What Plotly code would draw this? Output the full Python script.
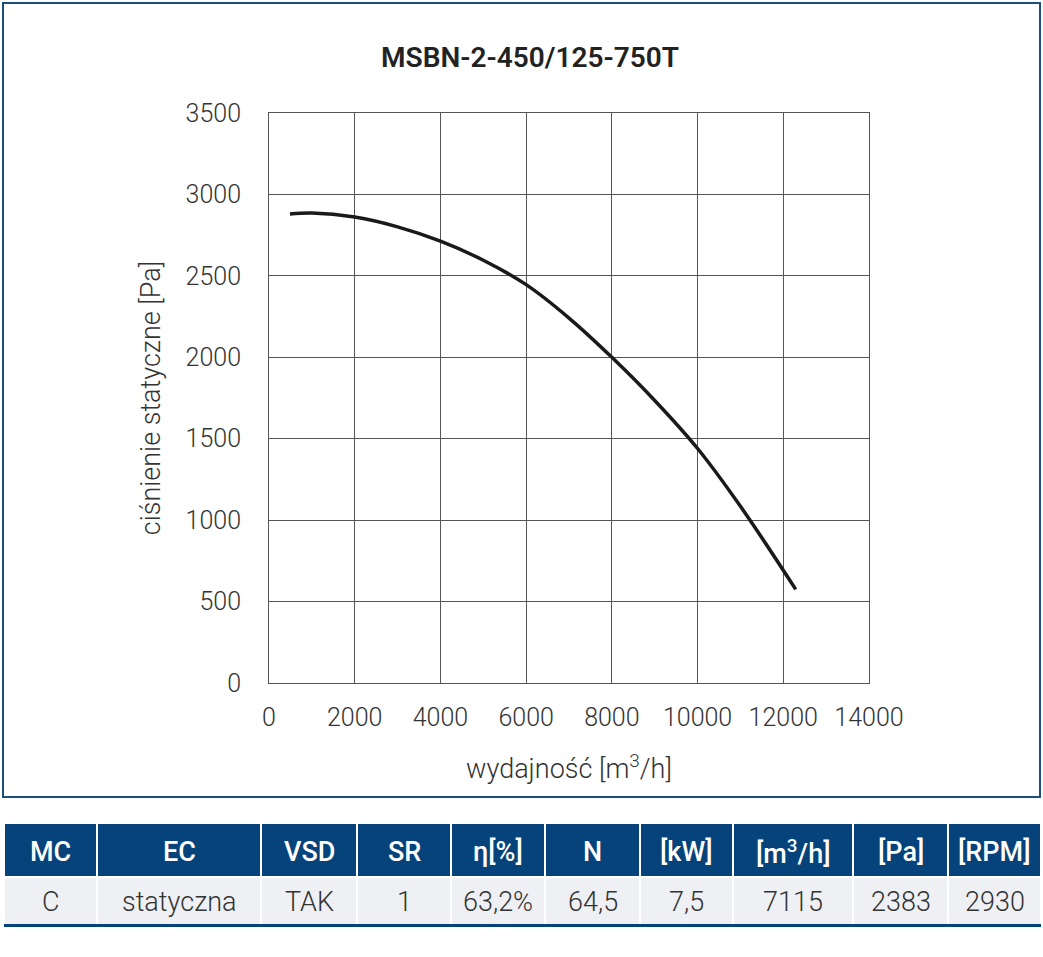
import plotly.graph_objects as go

# --- curve data ---
flow_m3h = [490, 1000, 2000, 3000, 4000, 5000, 6000, 7000, 8000, 9000, 10000, 11000, 12290]
pressure_pa = [2880, 2886, 2861, 2801, 2713, 2596, 2446, 2241, 2000, 1735, 1440, 1085, 575]

# --- table under the chart ---
table_header = ["MC", "EC", "VSD", "SR", "η[%]", "N", "[kW]", "[m<sup>3</sup>/h]", "[Pa]", "[RPM]"]
table_values = ["C", "statyczna", "TAK", "1", "63,2%", "64,5", "7,5", "7115", "2383", "2930"]
col_widths = [93, 164, 96, 94, 94, 95, 93, 120, 95, 93]

W, H = 1043, 957
FONT = "Roboto"
NAVY = "#05437a"
GRID = "#555555"


def px_x(p):
    return p / W


def px_y(p):
    # pixel row -> paper y
    return 1 - p / H


fig = go.Figure()

fig.add_trace(go.Scatter(
    x=flow_m3h, y=pressure_pa, mode="lines",
    line=dict(color="#1a1a1a", width=3.5, shape="spline", smoothing=1.0),
    hoverinfo="x+y", showlegend=False,
))

# outer frame around chart
fig.add_shape(type="rect", xref="paper", yref="paper",
              x0=px_x(3), x1=px_x(1040), y0=px_y(797), y1=px_y(3),
              line=dict(color="#1d4f7c", width=2))

# table drawn cell by cell
HEAD_TOP, HEAD_BOT, ROW_BOT = 824, 877, 924
left = 4
for head, val, w in zip(table_header, table_values, col_widths):
    x0, x1 = left + 1, left + w - 1
    fig.add_shape(type="rect", xref="paper", yref="paper", layer="below",
                  x0=px_x(x0), x1=px_x(x1), y0=px_y(HEAD_BOT - 1), y1=px_y(HEAD_TOP),
                  fillcolor=NAVY, line_width=0)
    fig.add_shape(type="rect", xref="paper", yref="paper", layer="below",
                  x0=px_x(x0), x1=px_x(x1), y0=px_y(ROW_BOT), y1=px_y(HEAD_BOT + 1),
                  fillcolor="#eef0f4", line_width=0)
    cx = px_x(left + w / 2)
    fig.add_annotation(x=cx, y=px_y((HEAD_TOP + HEAD_BOT) / 2 + 1), xref="paper", yref="paper",
                       text=head, showarrow=False, xanchor="center", yanchor="middle",
                       font=dict(family=FONT, size=27, color="white", weight=500))
    fig.add_annotation(x=cx, y=px_y((HEAD_BOT + ROW_BOT) / 2 + 1), xref="paper", yref="paper",
                       text=val, showarrow=False, xanchor="center", yanchor="middle",
                       font=dict(family=FONT, size=27, color="#333333", weight=300))
    left += w

# thick rule under table
fig.add_shape(type="line", xref="paper", yref="paper",
              x0=px_x(4), x1=px_x(1041), y0=px_y(925.5), y1=px_y(925.5),
              line=dict(color=NAVY, width=3))

axis_font = dict(family=FONT, size=25, color="#333333", weight=300)
title_font = dict(family=FONT, size=27, color="#333333", weight=300)

fig.update_layout(
    width=W, height=H,
    margin=dict(l=0, r=0, t=0, b=0),
    paper_bgcolor="white", plot_bgcolor="white",
    title=dict(text="MSBN-2-450/125-750T", x=px_x(530), xanchor="center",
               y=px_y(57), yanchor="middle",
               font=dict(family=FONT, size=28, color="#222222", weight=600)),
    xaxis=dict(
        domain=[px_x(269), px_x(869)], automargin=False,
        range=[0, 14000], dtick=2000, tickformat="d",
        showgrid=True, gridcolor=GRID, gridwidth=1,
        showline=True, linecolor=GRID, linewidth=1, mirror=True, zeroline=False,
        tickfont=axis_font, ticks="", ticklabelstandoff=12,
        title=dict(text="wydajność [m<sup>3</sup>/h]", font=title_font, standoff=28),
    ),
    yaxis=dict(
        domain=[px_y(683), px_y(113)], automargin=False,
        range=[0, 3500], dtick=500, tickformat="d",
        showgrid=True, gridcolor=GRID, gridwidth=1,
        showline=True, linecolor=GRID, linewidth=1, mirror=True, zeroline=False,
        tickfont=axis_font, ticks="", ticklabelstandoff=22,
        title=dict(text="ciśnienie statyczne [Pa]", font=title_font, standoff=17),
    ),
)

fig.write_html("out.html", config={"displayModeBar": False},
               post_script="document.body.style.margin='0';")
